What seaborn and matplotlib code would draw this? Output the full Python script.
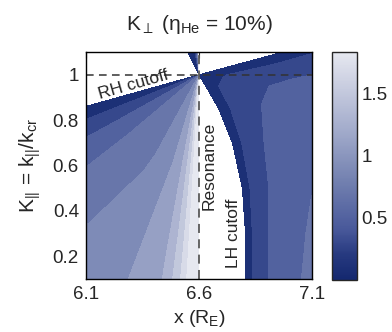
import numpy as np
import matplotlib
matplotlib.use("Agg")
import matplotlib.pyplot as plt
import seaborn as sns
from matplotlib.cm import ScalarMappable
from matplotlib.colors import Normalize, LinearSegmentedColormap

# ---------------------------------------------------------------------------
# Data
# ---------------------------------------------------------------------------

# left of the resonance: K_perp on a fan centred at (x, K_par) = (6.6, 1)
# angle in degrees below the leftward horizontal, radius in x units
fan_angle = [-90, -88, -85, -80, -72, -63.6, -58, 10, 15.6, 20, 25, 30, 40,
             50, 60, 70, 75, 80, 84, 87, 90]
fan_radius = [0.0, 0.4, 0.8, 1.1]
fan_k = [
    [2.5, 2.5, 2.5, 2.5],
    [1.0, 1.0, 1.0, 1.0],
    [0.5, 0.5, 0.5, 0.5],
    [0.2, 0.2, 0.2, 0.2],
    [0.1, 0.1, 0.1, 0.1],
    [0.0, 0.0, 0.0, 0.0],
    [-0.5, -0.5, -0.5, -0.5],
    [-0.5, -0.5, -0.5, -0.5],
    [0.0, 0.0, 0.0, 0.0],
    [0.17, 0.16, 0.15, 0.14],
    [0.30, 0.30, 0.30, 0.30],
    [0.42, 0.42, 0.43, 0.44],
    [0.58, 0.60, 0.62, 0.64],
    [0.68, 0.71, 0.76, 0.80],
    [0.76, 0.78, 0.87, 0.90],
    [0.92, 0.93, 0.98, 0.99],
    [1.02, 1.03, 1.06, 1.07],
    [1.22, 1.22, 1.21, 1.20],
    [1.50, 1.50, 1.50, 1.50],
    [1.85, 1.85, 1.85, 1.85],
    [2.50, 2.50, 2.50, 2.50],
]

# right of the resonance: K_perp versus distance from the LH cutoff
right_kpar = [0.1, 0.3, 0.5, 0.7, 0.85, 0.95, 1.0, 1.05, 1.1]
cutoff_x = [6.808, 6.806, 6.792, 6.748, 6.688, 6.63, 6.6, 6.785, 6.97]
right_offset = [0.0, 0.03, 0.1, 0.2, 0.3, 0.4, 0.5]
right_k = [
    [0.0, 0.20, 0.40, 0.55, 0.66, 0.72, 0.78],
    [0.0, 0.20, 0.40, 0.54, 0.63, 0.70, 0.75],
    [0.0, 0.19, 0.38, 0.50, 0.59, 0.66, 0.72],
    [0.0, 0.17, 0.36, 0.46, 0.53, 0.58, 0.62],
    [0.0, 0.15, 0.31, 0.41, 0.47, 0.52, 0.55],
    [0.0, 0.15, 0.28, 0.36, 0.41, 0.45, 0.48],
    [0.0, 0.10, 0.18, 0.26, 0.32, 0.37, 0.40],
    [0.0, 0.05, 0.14, 0.24, 0.31, 0.36, 0.40],
    [0.0, 0.05, 0.15, 0.25, 0.33, 0.40, 0.45],
]

levels = [0, 0.2, 0.4, 0.6, 0.8, 1.0, 1.2, 1.4, 1.6, 1.8]
k_max = 1.83
x_ticks = [6.1, 6.6, 7.1]
x_ticklabels = ["6.1", "6.6", "7.1"]
y_ticks = [0.2, 0.4, 0.6, 0.8, 1.0]
y_ticklabels = ["0.2", "0.4", "0.6", "0.8", "1"]
cb_ticks = [0.5, 1.0, 1.5]
cb_ticklabels = ["0.5", "1", "1.5"]

# ---------------------------------------------------------------------------
# Style
# ---------------------------------------------------------------------------

sns.set_style("white")
plt.rcParams["font.family"] = ["Liberation Sans", "DejaVu Sans"]
plt.rcParams["mathtext.fontset"] = "custom"
plt.rcParams["mathtext.rm"] = "Liberation Sans"
plt.rcParams["mathtext.it"] = "Liberation Sans"
plt.rcParams["mathtext.default"] = "regular"
plt.rcParams["font.size"] = 13.5

# navy -> pale grey, anchored at K = 0, 0.2, 0.4, 0.8, 1.2, 1.6, 1.83
cmap = LinearSegmentedColormap.from_list("kperp", [
    (0.0, "#14286f"), (0.109, "#26397f"), (0.219, "#48589a"),
    (0.437, "#7381b0"), (0.656, "#a2abcb"), (0.874, "#cdd1e2"),
    (1.0, "#e6e8f0")])
norm = Normalize(0, k_max)
band_levels = levels + [10]
# each band takes the colour at its middle, the top band the top colour
band_mid = [(lo + hi) / 2 for lo, hi in zip(levels[:-1], levels[1:])] + [k_max]
band_colors = [cmap(norm(v)) for v in band_mid]

# ---------------------------------------------------------------------------
# Figure
# ---------------------------------------------------------------------------

fig = plt.figure(figsize=(3.92, 3.32), dpi=100)
ax = fig.add_axes([0.219, 0.16, 0.577, 0.683])

a = np.deg2rad(np.array(fan_angle))[:, None]
r = np.array(fan_radius)[None, :]
fan_x = 6.6 - r * np.cos(a)
fan_y = 1.0 - r * np.sin(a)
ax.contourf(fan_x, fan_y, np.array(fan_k), levels=band_levels, colors=band_colors)

rk = np.array(right_kpar)[:, None] * np.ones((1, len(right_offset)))
rx = np.array(cutoff_x)[:, None] + np.array(right_offset)[None, :]
ax.contourf(rx, rk, np.array(right_k), levels=band_levels, colors=band_colors)

ax.axvline(6.6, color="0.35", lw=1.3, dashes=(5, 3.5))
ax.axhline(1.0, color="0.2", lw=1.1, dashes=(5, 3.5))

ax.text(6.31, 0.958, "RH cutoff", rotation=16, ha="center", va="center", fontsize=12.5)
ax.text(6.644, 0.6, "Resonance", rotation=90, ha="center", va="center", fontsize=12.5)
ax.text(6.753, 0.30, "LH cutoff", rotation=90, ha="center", va="center", fontsize=12.5)

ax.set_xlim(6.1, 7.1)
ax.set_ylim(0.1, 1.1)
ax.set_xticks(x_ticks)
ax.set_xticklabels(x_ticklabels)
ax.set_yticks(y_ticks)
ax.set_yticklabels(y_ticklabels)
ax.tick_params(direction="in", length=4, top=True, right=True, pad=5)
for s in ax.spines.values():
    s.set_linewidth(1.0)
    s.set_color("black")

ax.set_title(r"K$_{\perp}$ (η$_{He}$ = 10%)", fontsize=15, pad=16)
ax.set_xlabel(r"x (R$_{E}$)", fontsize=14, labelpad=4)
ax.set_ylabel(r"K$_{||}$ = k$_{||}$/k$_{cr}$", fontsize=15, labelpad=7)

cax = fig.add_axes([0.847, 0.157, 0.064, 0.686])
cb = fig.colorbar(ScalarMappable(norm=norm, cmap=cmap), cax=cax, ticks=cb_ticks)
cb.ax.set_yticklabels(cb_ticklabels)
cb.ax.tick_params(direction="in", length=3, left=True, right=True, pad=3)
cb.outline.set_linewidth(1.0)

fig.savefig("out.png", dpi=100)
